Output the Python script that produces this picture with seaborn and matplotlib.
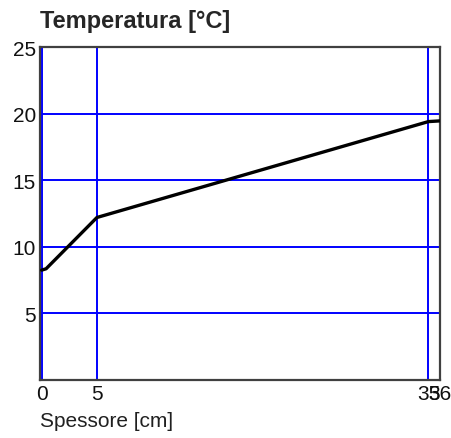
import pandas as pd
import matplotlib
matplotlib.use("Agg")
import matplotlib.pyplot as plt
import seaborn as sns

# wall profile data
spessore = [0, 0.4, 5, 35, 36]
temperatura = [8.25, 8.35, 12.2, 19.4, 19.45]
x_ticks = [0, 5, 35, 36]
y_ticks = [5, 10, 15, 20, 25]

df = pd.DataFrame({"spessore": spessore, "temperatura": temperatura})

sns.set_style("white")
plt.rcParams['font.family'] = ['Liberation Sans', 'DejaVu Sans']

fig = plt.figure(figsize=(4.51, 4.39), dpi=100)
ax = fig.add_axes([40/451, 1 - 381/439, 400/451, (381 - 48)/439])

# grid lines
for x in [0, 5, 35]:
    ax.axvline(x, color="#0000ff", lw=1.4, zorder=1)
for y in [5, 10, 15, 20]:
    ax.axhline(y, color="#0000ff", lw=1.4, zorder=1)

sns.lineplot(data=df, x="spessore", y="temperatura", color="black", lw=2.4, ax=ax, zorder=3)

ax.set_xlim(-0.15, 36.05)
ax.set_ylim(0, 25)
ax.set_xticks(x_ticks)
ax.set_xticklabels([str(t) for t in x_ticks])
ax.set_yticks(y_ticks)
ax.set_yticklabels([str(t) for t in y_ticks])
ax.tick_params(axis="both", length=0, labelsize=15, colors="#101010", pad=3)
ax.set_xlabel("")
ax.set_ylabel("")

for s in ax.spines.values():
    s.set_color("#404040")
    s.set_linewidth(1.6)

fig.text(40/451, 1 - 28/439, "Temperatura [°C]", fontsize=17, fontweight="bold",
         ha="left", va="baseline")
fig.text(40/451, 1 - 427/439, "Spessore [cm]", fontsize=15, color="#202020",
         ha="left", va="baseline")

fig.savefig("out.png", dpi=100)
